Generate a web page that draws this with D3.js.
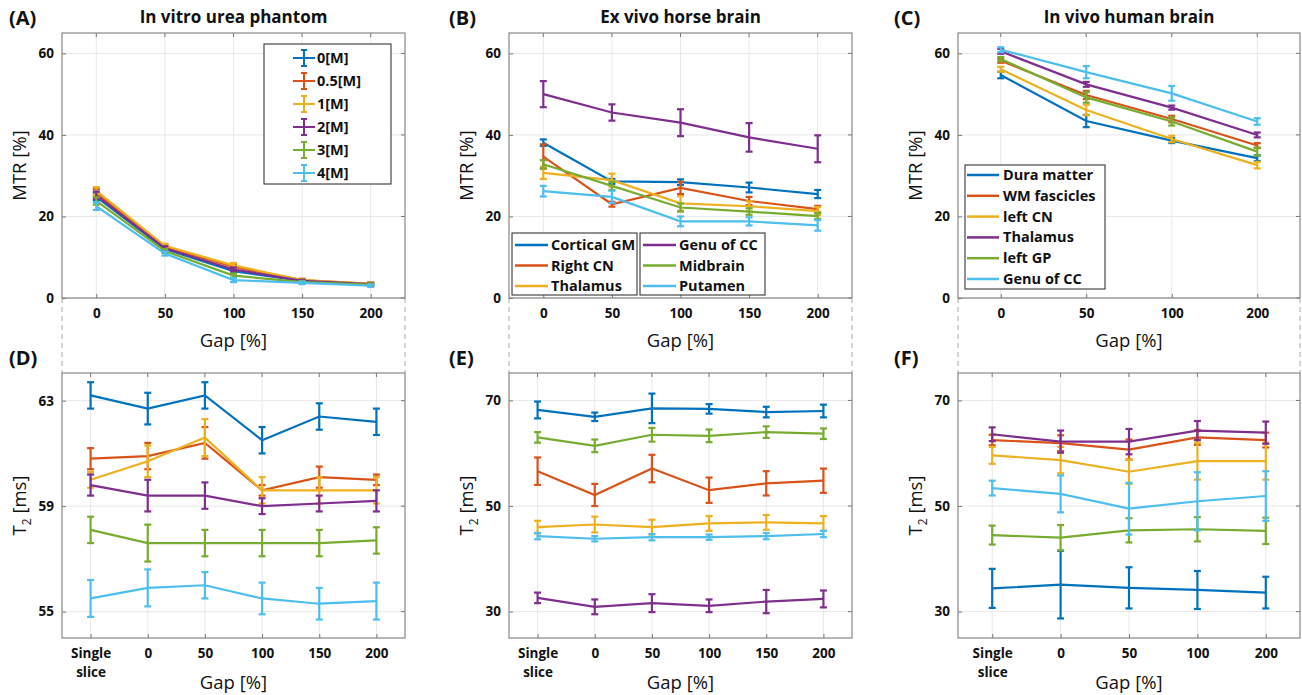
<!DOCTYPE html>
<html>
<head>
<meta charset="utf-8">
<script src="https://cdn.jsdelivr.net/npm/d3@7"></script>
<style>
  body { margin: 0; background: #fff; }
  svg text { font-family: "Open Sans", "Noto Sans", sans-serif; }
</style>
</head>
<body>
<svg id="chart" width="1302" height="695"></svg>
<script>
// MATLAB default colours
const colors = ["#0072BD", "#D95319", "#EDB120", "#7E2F8E", "#77AC30", "#4DBEEE"]

// ---- data ----
const gapsAB = ["0", "50", "100", "150", "200"]
const gapsC = ["0", "50", "100", "200"]
const gapsDE = ["Single slice", "0", "50", "100", "150", "200"]
const gapsF = ["Single slice", "0", "50", "100", "200"]

const ureaNames = ["0[M]", "0.5[M]", "1[M]", "2[M]", "3[M]", "4[M]"]
const horseNames = ["Cortical GM", "Right CN", "Thalamus", "Genu of CC", "Midbrain", "Putamen"]
const humanNames = ["Dura matter", "WM fascicles", "left CN", "Thalamus", "left GP", "Genu of CC"]

// (A) MTR, urea phantom
const mtrA = [
  [24.8, 12.0, 6.6, 4.2, 3.3],
  [25.8, 12.6, 7.6, 4.4, 3.5],
  [26.3, 12.8, 8.0, 4.4, 3.5],
  [25.2, 12.2, 7.0, 4.2, 3.4],
  [23.8, 11.5, 5.5, 3.9, 3.3],
  [22.5, 10.9, 4.4, 3.7, 3.0]
]
const mtrAErr = [
  [0.9, 0.5, 0.5, 0.3, 0.3],
  [0.9, 0.5, 0.5, 0.3, 0.3],
  [0.9, 0.5, 0.6, 0.3, 0.3],
  [0.9, 0.5, 0.5, 0.3, 0.3],
  [0.9, 0.5, 0.5, 0.3, 0.3],
  [0.9, 0.5, 0.5, 0.3, 0.3]
]

// (B) MTR, ex vivo horse brain
const mtrB = [
  [38.1, 28.6, 28.4, 27.1, 25.5],
  [34.7, 23.0, 27.0, 23.8, 21.8],
  [30.7, 28.9, 23.2, 22.5, 21.3],
  [50.0, 45.5, 43.0, 39.4, 36.6],
  [32.8, 27.5, 22.2, 21.2, 20.1],
  [26.2, 24.8, 18.8, 18.8, 17.8]
]
const mtrBErr = [
  [0.8, 0.6, 0.7, 1.2, 1.0],
  [3.0, 0.6, 1.5, 1.0, 0.8],
  [1.5, 1.6, 1.8, 1.2, 1.0],
  [3.2, 2.0, 3.3, 3.5, 3.3],
  [1.0, 1.0, 1.0, 0.8, 0.7],
  [1.3, 1.5, 1.2, 1.0, 1.3]
]

// (C) MTR, in vivo human brain
const mtrC = [
  [54.7, 43.4, 38.6, 34.3],
  [58.2, 49.8, 43.9, 37.4],
  [56.1, 46.1, 39.0, 32.6],
  [60.5, 52.4, 46.7, 40.0],
  [58.6, 49.2, 43.3, 35.9],
  [60.9, 55.4, 50.2, 43.3]
]
const mtrCErr = [
  [0.8, 1.5, 0.6, 0.7],
  [0.5, 1.0, 0.8, 0.6],
  [0.6, 1.3, 0.8, 0.8],
  [0.6, 0.6, 0.5, 0.6],
  [0.5, 1.3, 1.0, 1.0],
  [0.6, 1.5, 1.8, 0.8]
]

// (D) T2, urea phantom
const t2D = [
  [63.2, 62.7, 63.2, 61.5, 62.4, 62.2],
  [60.8, 60.9, 61.4, 59.6, 60.1, 60.0],
  [60.0, 60.7, 61.6, 59.6, 59.6, 59.6],
  [59.8, 59.4, 59.4, 59.0, 59.1, 59.2],
  [58.1, 57.6, 57.6, 57.6, 57.6, 57.7],
  [55.5, 55.9, 56.0, 55.5, 55.3, 55.4]
]
const t2DErr = [
  [0.5, 0.6, 0.5, 0.5, 0.5, 0.5],
  [0.4, 0.5, 0.6, 0.2, 0.4, 0.2],
  [0.3, 0.6, 0.7, 0.5, 0.5, 0.5],
  [0.4, 0.6, 0.5, 0.3, 0.3, 0.4],
  [0.5, 0.7, 0.5, 0.5, 0.5, 0.5],
  [0.7, 0.7, 0.5, 0.6, 0.6, 0.7]
]

// (E) T2, horse brain
const t2E = [
  [68.2, 66.9, 68.5, 68.4, 67.8, 68.0],
  [56.6, 52.1, 57.1, 53.0, 54.3, 54.8],
  [46.0, 46.5, 46.0, 46.7, 46.9, 46.7],
  [32.6, 30.9, 31.6, 31.1, 31.9, 32.4],
  [63.0, 61.4, 63.5, 63.3, 64.0, 63.7],
  [44.3, 43.8, 44.1, 44.1, 44.3, 44.7]
]
const t2EErr = [
  [1.6, 0.8, 2.8, 0.9, 1.0, 1.2],
  [2.6, 2.1, 2.6, 2.4, 2.3, 2.3],
  [1.2, 1.5, 1.4, 1.4, 1.4, 1.4],
  [1.0, 1.4, 1.7, 1.2, 2.2, 1.6],
  [1.0, 1.2, 1.3, 1.2, 1.1, 1.0],
  [0.6, 0.5, 0.6, 0.5, 0.6, 0.6]
]

// (F) T2, human brain
const t2F = [
  [34.4, 35.1, 34.5, 34.1, 33.6],
  [62.5, 61.9, 60.7, 63.0, 62.5],
  [59.6, 58.7, 56.5, 58.5, 58.5],
  [63.6, 62.2, 62.2, 64.3, 63.9],
  [44.5, 44.0, 45.4, 45.6, 45.3],
  [53.4, 52.3, 49.5, 50.9, 51.9]
]
const t2FErr = [
  [3.7, 6.4, 3.9, 3.6, 3.0],
  [1.0, 1.5, 1.9, 1.4, 1.4],
  [1.6, 2.5, 2.3, 3.5, 3.5],
  [1.3, 2.1, 2.4, 1.8, 2.1],
  [1.8, 2.4, 2.3, 2.3, 2.5],
  [1.4, 3.5, 4.9, 5.5, 4.7]
]

const svg = d3.select("#chart")

function drawPanel(p) {
  const w = p.x1 - p.x0
  const h = p.y1 - p.y0
  const xScale = d3.scalePoint().domain(p.cats).range([0, w]).padding(0.5)
  const yScale = d3.scaleLinear().domain(p.ydom).range([h, 0])
  const g = svg.append("g").attr("transform", "translate(" + p.x0 + "," + p.y0 + ")")

  // grid
  g.selectAll(".gx").data(p.cats).join("line")
    .attr("x1", d => xScale(d)).attr("x2", d => xScale(d))
    .attr("y1", 0).attr("y2", h)
    .attr("stroke", "#e8e8e8")
  g.selectAll(".gy").data(p.yticks).join("line")
    .attr("x1", 0).attr("x2", w)
    .attr("y1", d => yScale(d)).attr("y2", d => yScale(d))
    .attr("stroke", "#e8e8e8")

  // axes
  const xAxis = g.append("g").attr("transform", "translate(0," + h + ")")
    .call(d3.axisBottom(xScale).tickSizeInner(-4).tickSizeOuter(0).tickPadding(10))
  const yAxis = g.append("g")
    .call(d3.axisLeft(yScale).tickValues(p.yticks).tickSizeInner(-4).tickSizeOuter(0).tickPadding(8))
  ;[xAxis, yAxis].forEach(a => {
    a.select(".domain").remove()
    a.selectAll("line").attr("stroke", "#777")
    a.selectAll("text").attr("font-size", 13.5).attr("font-weight", "bold").attr("fill", "#111")
  })
  xAxis.selectAll("text").each(function (d) {
    if (d === "Single slice") {
      const t = d3.select(this).text(null)
      t.append("tspan").attr("x", 0).attr("dy", "0.71em").text("Single")
      t.append("tspan").attr("x", 0).attr("dy", "1.45em").text("slice")
    }
  })
  // top/right ticks
  g.selectAll(".tt").data(p.cats).join("line")
    .attr("x1", d => xScale(d)).attr("x2", d => xScale(d))
    .attr("y1", 0).attr("y2", 4).attr("stroke", "#777")
  g.selectAll(".tr").data(p.yticks).join("line")
    .attr("x1", w - 4).attr("x2", w)
    .attr("y1", d => yScale(d)).attr("y2", d => yScale(d)).attr("stroke", "#777")

  // box
  g.append("rect").attr("width", w).attr("height", h)
    .attr("fill", "none").attr("stroke", "#888").attr("stroke-width", 1.2)

  // series
  const line = d3.line().x((d, i) => xScale(p.cats[i])).y(d => yScale(d))
  p.means.forEach((m, s) => {
    const col = colors[s]
    g.append("path").datum(m).attr("d", line)
      .attr("fill", "none").attr("stroke", col).attr("stroke-width", 2.2)
    const eb = g.append("g").attr("stroke", col).attr("stroke-width", 2.2)
    m.forEach((v, i) => {
      const e = p.errs[s][i]
      const cx = xScale(p.cats[i])
      eb.append("line").attr("x1", cx).attr("x2", cx).attr("y1", yScale(v - e)).attr("y2", yScale(v + e))
      eb.append("line").attr("x1", cx - 3.5).attr("x2", cx + 3.5).attr("y1", yScale(v - e)).attr("y2", yScale(v - e))
      eb.append("line").attr("x1", cx - 3.5).attr("x2", cx + 3.5).attr("y1", yScale(v + e)).attr("y2", yScale(v + e))
    })
  })

  // labels
  svg.append("text").attr("x", p.x0 - 42).attr("y", p.y0 + h / 2)
    .attr("transform", "rotate(-90," + (p.x0 - 42) + "," + (p.y0 + h / 2) + ")")
    .attr("text-anchor", "middle").attr("dy", "0.35em").attr("font-size", 18.5).attr("fill", "#111")
    .call(t => {
      if (p.ylabel === "T2") {
        t.append("tspan").text("T")
        t.append("tspan").attr("font-size", 12).attr("dy", 5).text("2")
        t.append("tspan").attr("dy", -5).text(" [ms]")
      } else t.text(p.ylabel)
    })
  svg.append("text").attr("x", p.x0 + w / 2).attr("y", p.gapY)
    .attr("text-anchor", "middle").attr("font-size", 18.5).attr("fill", "#111").text("Gap [%]")
  svg.append("text").attr("x", p.letterX).attr("y", p.y0 - 8)
    .attr("font-size", 20).attr("font-weight", "bold").attr("fill", "#111").text(p.letter)
  if (p.title) {
    svg.append("text").attr("x", p.x0 + w / 2).attr("y", p.y0 - 10)
      .attr("text-anchor", "middle").attr("font-size", 17).attr("font-weight", "bold")
      .attr("fill", "#111").text(p.title)
  }
  return { g, w, h }
}

const cols = [[62, 405, 10], [509, 852, 450], [958, 1300, 895]]
const topY = [33, 298], botY = [373, 638]

// dashed connectors between rows
cols.forEach(c => {
  [c[0], c[1]].forEach(x => {
    svg.append("line").attr("x1", x).attr("x2", x).attr("y1", topY[1]).attr("y2", botY[0])
      .attr("stroke", "#aaa").attr("stroke-dasharray", "5,4")
  })
})

const pA = drawPanel({ x0: 62, x1: 405, y0: 33, y1: 298, cats: gapsAB, ydom: [0, 65], yticks: [0, 20, 40, 60],
  means: mtrA, errs: mtrAErr, ylabel: "MTR [%]", letter: "(A)", letterX: 9, title: "In vitro urea phantom", gapY: 347 })
const pB = drawPanel({ x0: 509, x1: 852, y0: 33, y1: 298, cats: gapsAB, ydom: [0, 65], yticks: [0, 20, 40, 60],
  means: mtrB, errs: mtrBErr, ylabel: "MTR [%]", letter: "(B)", letterX: 449, title: "Ex vivo horse brain", gapY: 347 })
const pC = drawPanel({ x0: 958, x1: 1300, y0: 33, y1: 298, cats: gapsC, ydom: [0, 65], yticks: [0, 20, 40, 60],
  means: mtrC, errs: mtrCErr, ylabel: "MTR [%]", letter: "(C)", letterX: 894, title: "In vivo human brain", gapY: 347 })
drawPanel({ x0: 62, x1: 405, y0: 373, y1: 638, cats: gapsDE, ydom: [54, 64.05], yticks: [55, 59, 63],
  means: t2D, errs: t2DErr, ylabel: "T2", letter: "(D)", letterX: 9, gapY: 689 })
drawPanel({ x0: 509, x1: 852, y0: 373, y1: 638, cats: gapsDE, ydom: [25, 75.2], yticks: [30, 50, 70],
  means: t2E, errs: t2EErr, ylabel: "T2", letter: "(E)", letterX: 449, gapY: 689 })
drawPanel({ x0: 958, x1: 1300, y0: 373, y1: 638, cats: gapsF, ydom: [25, 75.2], yticks: [30, 50, 70],
  means: t2F, errs: t2FErr, ylabel: "T2", letter: "(F)", letterX: 894, gapY: 689 })

// legend A (with error-bar glyph)
const legA = pA.g.append("g").attr("transform", "translate(202,11)")
legA.append("rect").attr("width", 127).attr("height", 140).attr("fill", "#fff").attr("stroke", "#222")
ureaNames.forEach((n, i) => {
  const y = 14 + i * 23
  const r = legA.append("g").attr("stroke", colors[i]).attr("stroke-width", 2)
  r.append("line").attr("x1", 29).attr("x2", 51).attr("y1", y).attr("y2", y)
  r.append("line").attr("x1", 40).attr("x2", 40).attr("y1", y - 8).attr("y2", y + 8)
  r.append("line").attr("x1", 37).attr("x2", 43).attr("y1", y - 8).attr("y2", y - 8)
  r.append("line").attr("x1", 37).attr("x2", 43).attr("y1", y + 8).attr("y2", y + 8)
  legA.append("text").attr("x", 53).attr("y", y + 5).attr("font-size", 14.5).attr("font-weight", "bold")
    .attr("fill", "#111").text(n)
})

// legend B (two columns of boxes)
;[0, 1].forEach(c => {
  const lg = pB.g.append("g").attr("transform", "translate(3," + 200 + ")")
    .attr("transform", "translate(" + (3 + c * 128) + ",200)")
  lg.append("rect").attr("width", 125).attr("height", 62).attr("fill", "#fff").attr("stroke", "#222")
  for (let r = 0; r < 3; r++) {
    const idx = c * 3 + r
    const y = 12 + r * 20.5
    lg.append("line").attr("x1", 3).attr("x2", 36).attr("y1", y).attr("y2", y)
      .attr("stroke", colors[idx]).attr("stroke-width", 2.5)
    lg.append("text").attr("x", 39).attr("y", y + 5).attr("font-size", 14.5).attr("font-weight", "bold")
      .attr("fill", "#111").text(horseNames[idx])
  }
})

// legend C
const legC = pC.g.append("g").attr("transform", "translate(7,132)")
legC.append("rect").attr("width", 140).attr("height", 124).attr("fill", "#fff").attr("stroke", "#222")
humanNames.forEach((n, i) => {
  const y = 10 + i * 20.8
  legC.append("line").attr("x1", 2).attr("x2", 34).attr("y1", y).attr("y2", y)
    .attr("stroke", colors[i]).attr("stroke-width", 2.5)
  legC.append("text").attr("x", 38).attr("y", y + 5).attr("font-size", 14.5).attr("font-weight", "bold")
    .attr("fill", "#111").text(n)
})
</script>
</body>
</html>
